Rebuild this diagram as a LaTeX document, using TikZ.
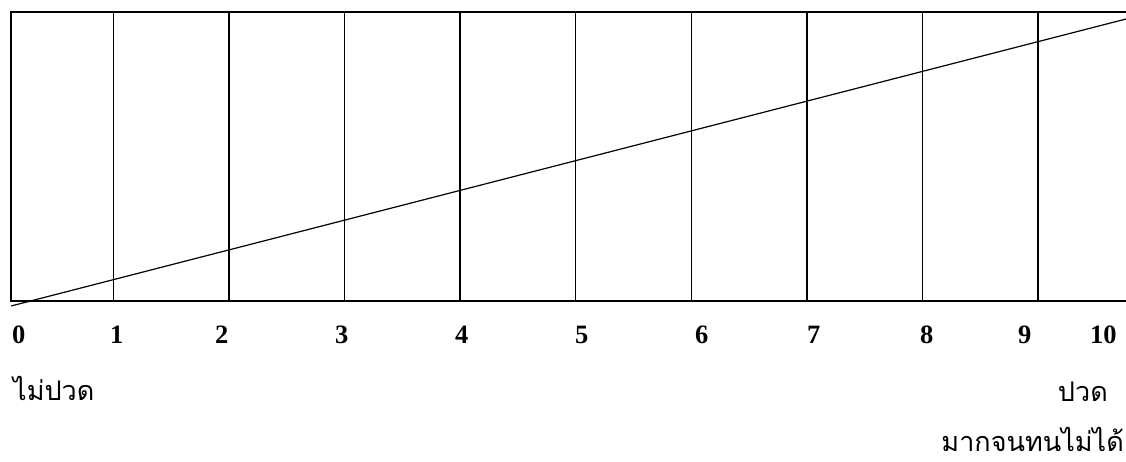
\documentclass[tikz,border=0pt]{standalone}
\usepackage{fontspec}
\setmainfont{Liberation Serif}
\newfontfamily\thaifont[Script=Thai]{Loma}
\usetikzlibrary{positioning}

\begin{document}
\begin{tikzpicture}[
    x=1pt, y=-1pt,
    frame/.style={line width=1.5pt, line cap=rect},
    slope/.style={line width=1.2pt},
    num/.style={anchor=base west, inner sep=0pt, font=\bfseries\fontsize{26.5}{26.5}\selectfont},
    thai/.style={inner sep=0pt, font=\thaifont\fontsize{27}{27}\selectfont}
  ]
    \useasboundingbox (0,0) rectangle (1126,461);

    % scale box
    \coordinate (tl) at (11,12);
    \coordinate (bl) at (11,301);
    \coordinate (tr) at (1126,12);
    \coordinate (br) at (1126,301);
    \draw[frame] (tr) -- (tl) -- (bl) -- (br);
    \foreach \i in {1,...,9}
      \draw[frame] ({113.3+115.6*(\i-1)},12) -- ++(0,289);

    % rising line
    \coordinate (lo) at (11,306);
    \coordinate (hi) at (1126,19);
    \draw[slope] (lo) -- (hi);

    % numbers
    \foreach \n/\x in {0/12,1/110,2/215,3/335,4/455,5/575,6/695,7/807,8/920,9/1018,10/1090}
      \node[num] (n\n) at (\x,343) {\n};

    % end labels
    \node[thai, anchor=base west] (none) at (13,400) {ไม่ปวด};
    \node[thai, anchor=base east] (worst) at (1108,401) {ปวด};
    \node[thai, anchor=base east] (worst2) at (1124,451) {มากจนทนไม่ได้};
\end{tikzpicture}
\end{document}
